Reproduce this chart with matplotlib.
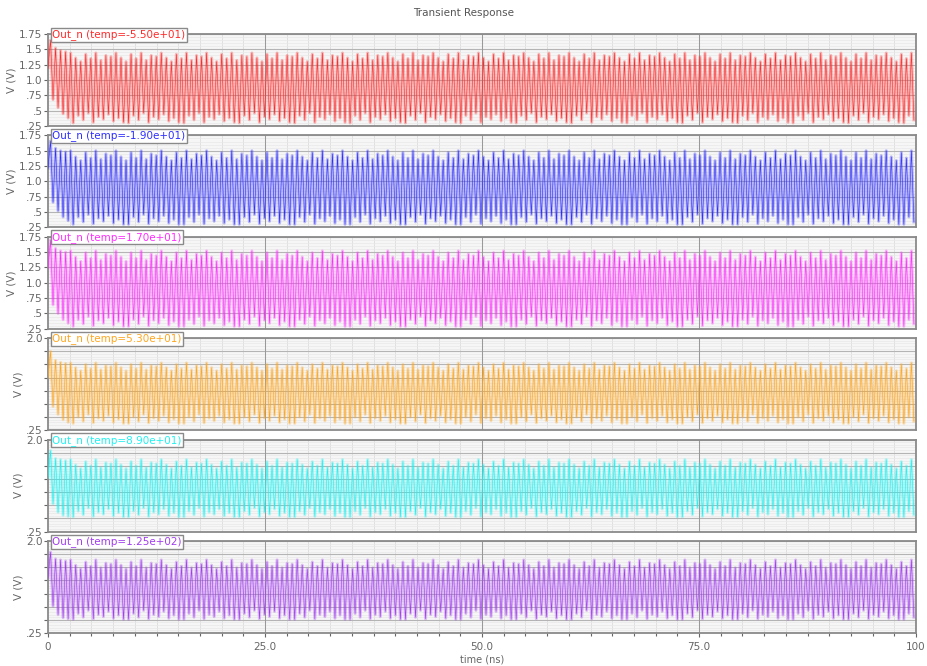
import numpy as np
import matplotlib.pyplot as plt
from matplotlib.ticker import MultipleLocator

# --- data ---
temps = ["-5.50e+01", "-1.90e+01", "1.70e+01", "5.30e+01", "8.90e+01", "1.25e+02"]
colors = ["#ff2a2a", "#2e2eff", "#ff2cff", "#ffa61e", "#1ff2f2", "#a23cf0"]

half_period = 0.29   # ns, one swing (rise or fall)
t_end = 100.0

# start of each trace (first few swings), then the peaks / troughs that repeat
start_red = [1.20, 1.65, 0.68, 1.52, 0.55, 1.48, 0.45, 1.46, 0.38]
hi_red = [1.44, 1.36, 1.30, 1.42, 1.35, 1.44, 1.32, 1.40, 1.38]
lo_red = [0.30, 0.42, 0.35, 0.46, 0.31, 0.40, 0.36, 0.44, 0.33, 0.38, 0.31]

start_blue = [1.22, 1.66, 0.66, 1.54, 0.52, 1.50, 0.42, 1.48, 0.36]
hi_blue = [1.50, 1.40, 1.34, 1.47, 1.38, 1.50, 1.36, 1.45, 1.42]
lo_blue = [0.30, 0.42, 0.34, 0.46, 0.31, 0.40, 0.35, 0.44, 0.32, 0.38, 0.30]

start_mag = [1.24, 1.70, 0.64, 1.56, 0.50, 1.52, 0.40, 1.50, 0.34]
hi_mag = [1.52, 1.42, 1.35, 1.49, 1.40, 1.52, 1.37, 1.47, 1.44]
lo_mag = [0.29, 0.40, 0.33, 0.45, 0.30, 0.39, 0.34, 0.43, 0.31, 0.37, 0.29]

start_org = [1.25, 1.75, 0.70, 1.58, 0.55, 1.54, 0.45, 1.52, 0.40]
hi_org = [1.53, 1.44, 1.38, 1.50, 1.42, 1.53, 1.40, 1.48, 1.46]
lo_org = [0.38, 0.50, 0.42, 0.55, 0.39, 0.48, 0.43, 0.53, 0.40, 0.46, 0.38]

start_cyn = [1.28, 1.79, 0.78, 1.64, 0.62, 1.62, 0.56, 1.60, 0.54]
hi_cyn = [1.62, 1.52, 1.45, 1.58, 1.50, 1.62, 1.47, 1.56, 1.54]
lo_cyn = [0.53, 0.64, 0.57, 0.70, 0.54, 0.62, 0.58, 0.68, 0.55, 0.61, 0.53]

start_pur = [1.30, 1.79, 0.76, 1.66, 0.60, 1.64, 0.54, 1.62, 0.52]
hi_pur = [1.64, 1.54, 1.47, 1.60, 1.52, 1.64, 1.49, 1.58, 1.56]
lo_pur = [0.51, 0.62, 0.55, 0.68, 0.52, 0.60, 0.56, 0.66, 0.53, 0.59, 0.51]

traces = [
    (start_red, hi_red, lo_red),
    (start_blue, hi_blue, lo_blue),
    (start_mag, hi_mag, lo_mag),
    (start_org, hi_org, lo_org),
    (start_cyn, hi_cyn, lo_cyn),
    (start_pur, hi_pur, lo_pur),
]
ylims = [(0.25, 1.75)] * 3 + [(0.25, 2.0)] * 3
upper_labels = [".25", ".5", ".75", "1.0", "1.25", "1.5", "1.75"]
lower_labels = [".25", "", "", "", "", "", "", "2.0"]
xtick_vals = [0, 25, 50, 75, 100]
xtick_labels = ["0", "25.0", "50.0", "75.0", "100"]


def build_wave(start, hi, lo):
    n = int(t_end / half_period) + 1
    rest = n - len(start)
    k = rest // 2 + 1
    alt = np.empty(2 * k)
    alt[0::2] = np.resize(hi, k)
    alt[1::2] = np.resize(lo, k)
    v = np.concatenate([start, alt])[:n]
    t = np.arange(n) * half_period
    return t, v


W, H = 927, 666
fig = plt.figure(figsize=(W / 100, H / 100), dpi=100)
gray = "#666666"

left, right = 48, 916
top0, step, ph = 34, 101.4, 92

for i in range(6):
    top = top0 + i * step
    ax = fig.add_axes([left / W, 1 - (top + ph) / H, (right - left) / W, ph / H])
    ax.set_facecolor("#f6f6f6")

    t, v = build_wave(*traces[i])
    # pale body of the dense trace, then the trace itself
    ax.plot(t, v, color=colors[i], lw=2.2, alpha=0.3, zorder=3)
    ax.plot(t, v, color=colors[i], lw=0.42, zorder=4)

    lo_y, hi_y = ylims[i]
    ax.set_xlim(0, 100)
    ax.set_ylim(lo_y, hi_y)

    ax.xaxis.set_major_locator(MultipleLocator(25))
    ax.xaxis.set_minor_locator(MultipleLocator(2.5))
    ax.yaxis.set_minor_locator(MultipleLocator(0.05))
    ax.grid(which="minor", axis="x", color="#dcdcdc", lw=0.6)
    ax.grid(which="minor", axis="y", color="#e8e8e8", lw=0.5)
    ax.grid(which="major", axis="y", color="#b4b4b4", lw=0.8)
    ax.set_axisbelow(True)
    for xv in xtick_vals[1:-1]:
        ax.axvline(xv, color="#999999", lw=0.75, zorder=2)

    if i < 3:
        ax.set_yticks(np.arange(0.25, 1.76, 0.25))
        ax.set_yticklabels(upper_labels)
    else:
        ax.set_yticks(np.arange(0.25, 2.01, 0.25))
        ax.set_yticklabels(lower_labels)
    ax.tick_params(axis="y", which="major", direction="out", length=3, width=0.8,
                   colors=gray, labelsize=7.5, pad=1)
    ax.tick_params(axis="y", which="minor", length=0)
    ax.set_ylabel("V (V)", color=gray, fontsize=7.5, labelpad=2)

    if i < 5:
        ax.tick_params(axis="x", which="both", length=0, labelbottom=False)
    else:
        ax.set_xticks(xtick_vals)
        ax.set_xticklabels(xtick_labels)
        ax.tick_params(axis="x", which="major", direction="out", length=3,
                       width=0.8, colors=gray, labelsize=7.5)
        ax.tick_params(axis="x", which="minor", direction="out", length=2,
                       width=0.8, colors=gray)
        ax.set_xlabel("time (ns)", color=gray, fontsize=7, labelpad=2)

    for s in ax.spines.values():
        s.set_color("#8a8a8a")
        s.set_linewidth(1.3)

    ax.annotate("Out_n (temp=" + temps[i] + ")", xy=(0, 1), xycoords="axes fraction",
                xytext=(3, 3.5), textcoords="offset points", ha="left", va="top",
                color=colors[i], fontsize=7.5, zorder=6, annotation_clip=False,
                bbox=dict(boxstyle="square,pad=0.15", fc="white", ec="#8a8a8a", lw=1.0))

fig.text(0.5, 1 - 13 / H, "Transient Response", ha="center", va="center",
         color="#555555", fontsize=7.5)

fig.savefig("out.png", dpi=100)
